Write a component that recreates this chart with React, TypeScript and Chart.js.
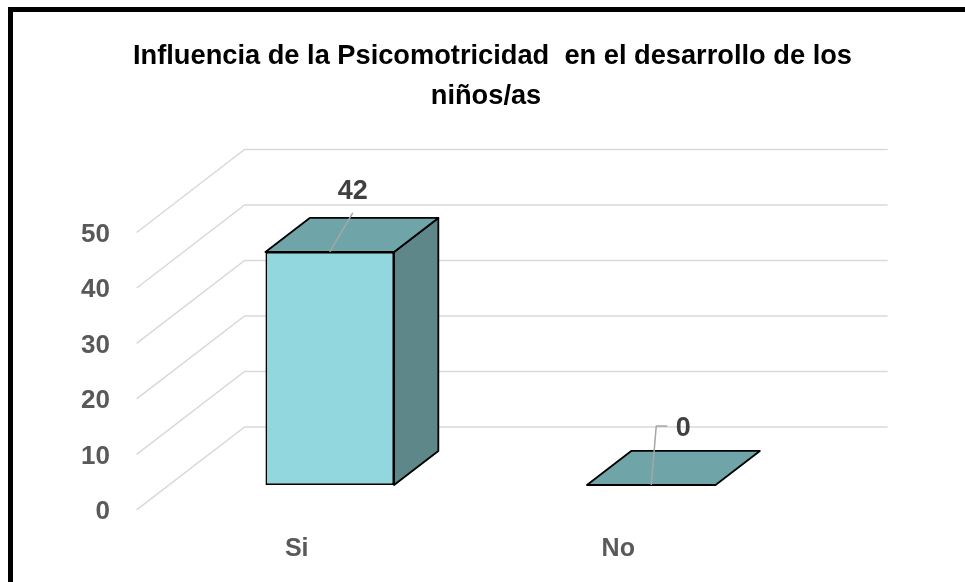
import React, { useEffect, useRef } from "react";
import { Chart, registerables } from "chart.js";

Chart.register(...registerables);

const categories = ["Si", "No"];
const values = [42, 0];
const yTicks = [0, 10, 20, 30, 40, 50];
const titleLines = [
  "Influencia de la Psicomotricidad  en el desarrollo de los",
  "niños/as",
];

// styling / geometry of the pseudo-3D look
const DEPTH = { x: 108, y: -83 };
const BAR_F0 = 0.3;
const BAR_F1 = 0.71;
const COLORS = {
  front: "#92D7DD",
  top: "#6FA5A8",
  side: "#5E878A",
  grid: "#D9D9D9",
  tick: "#595959",
  label: "#404040",
};
// label placement relative to bar's top-front centre
const labelPlacement = [
  { dx: 23, dy: -60, path: [[0, 0], [23, -39]] },
  { dx: 32, dy: -56, path: [[0, 0], [5, -59], [16, -59]] },
];

const pt = (x: number, y: number, f: number): [number, number] => [
  x + (f - BAR_F0) * DEPTH.x,
  y + (f - BAR_F0) * DEPTH.y,
];

const threeD = {
  id: "threeD",
  beforeDraw(chart: any) {
    const ctx = chart.ctx;
    ctx.save();
    ctx.fillStyle = "#ffffff";
    ctx.fillRect(0, 0, chart.width, chart.height);
    // frame
    ctx.fillStyle = "#000000";
    ctx.fillRect(8, 7, 5, chart.height - 7);
    ctx.fillRect(8, 7, chart.width - 8, 5);
    // title
    ctx.font = "bold 28px 'Liberation Sans', Arial, sans-serif";
    const w = ctx.measureText(titleLines[0]).width;
    const s = 719 / w;
    ctx.textAlign = "center";
    ctx.textBaseline = "alphabetic";
    const baselines = [64, 104];
    const cxs = [492.5, 486];
    titleLines.forEach((line, i) => {
      ctx.save();
      ctx.translate(cxs[i], baselines[i]);
      ctx.scale(s, 1);
      ctx.fillText(line, 0, 0);
      ctx.restore();
    });
    ctx.restore();
  },
  beforeDatasetsDraw(chart: any) {
    const ctx = chart.ctx;
    const ys = chart.scales.y;
    const { left, right } = chart.chartArea;
    ctx.save();
    ctx.strokeStyle = COLORS.grid;
    ctx.lineWidth = 1.5;
    yTicks.forEach((v) => {
      const yp = ys.getPixelForValue(v);
      const a = pt(left, yp, 0);
      const b = pt(left, yp, 1);
      const c = pt(right, yp, 1);
      ctx.beginPath();
      ctx.moveTo(a[0], a[1]);
      ctx.lineTo(b[0], b[1]);
      ctx.lineTo(c[0], c[1]);
      ctx.stroke();
    });
    ctx.restore();
  },
  afterDatasetsDraw(chart: any) {
    const ctx = chart.ctx;
    const meta = chart.getDatasetMeta(0);
    ctx.save();
    ctx.lineWidth = 1.8;
    ctx.strokeStyle = "#000000";
    ctx.lineJoin = "round";
    meta.data.forEach((el: any, i: number) => {
      const p = el.getProps(["x", "y", "base", "width"], true);
      const xl = p.x - p.width / 2;
      const xr = p.x + p.width / 2;
      const yt = p.y;
      const yb = p.base;
      const d = BAR_F1 - BAR_F0;
      const ox = d * DEPTH.x;
      const oy = d * DEPTH.y;
      // side face
      if (yb - yt > 0.5) {
        ctx.beginPath();
        ctx.moveTo(xr, yt);
        ctx.lineTo(xr + ox, yt + oy);
        ctx.lineTo(xr + ox, yb + oy);
        ctx.lineTo(xr, yb);
        ctx.closePath();
        ctx.fillStyle = COLORS.side;
        ctx.fill();
        ctx.stroke();
      }
      // top face
      ctx.beginPath();
      ctx.moveTo(xl, yt);
      ctx.lineTo(xl + ox, yt + oy);
      ctx.lineTo(xr + ox, yt + oy);
      ctx.lineTo(xr, yt);
      ctx.closePath();
      ctx.fillStyle = COLORS.top;
      ctx.fill();
      ctx.stroke();

      // data label + leader
      const lp = labelPlacement[i];
      const ax = p.x;
      const ay = yt;
      ctx.save();
      ctx.strokeStyle = "#A6A6A6";
      ctx.lineWidth = 1.5;
      ctx.beginPath();
      lp.path.forEach(([dx, dy], k) => {
        if (k === 0) ctx.moveTo(ax + dx, ay + dy);
        else ctx.lineTo(ax + dx, ay + dy);
      });
      ctx.stroke();
      ctx.fillStyle = COLORS.label;
      ctx.font = "bold 27px 'Liberation Sans', Arial, sans-serif";
      ctx.textAlign = "center";
      ctx.textBaseline = "middle";
      ctx.fillText(String(values[i]), ax + lp.dx, ay + lp.dy);
      ctx.restore();
    });
    ctx.restore();
  },
};

export default function App() {
  const ref = useRef<HTMLCanvasElement | null>(null);
  useEffect(() => {
    if (!ref.current) return;
    const chart = new Chart(ref.current, {
      type: "bar",
      data: {
        labels: categories,
        datasets: [
          {
            data: values,
            backgroundColor: COLORS.front,
            borderColor: "#000000",
            borderWidth: 1.8,
            borderSkipped: false,
            categoryPercentage: 1,
            barPercentage: 0.4,
          },
        ],
      },
      options: {
        responsive: false,
        animation: false,
        devicePixelRatio: 1,
        layout: { padding: { left: 0, top: 207.6, right: 153, bottom: 0 } },
        plugins: {
          legend: { display: false },
          title: { display: false },
          tooltip: { enabled: false },
        },
        scales: {
          x: {
            type: "category",
            offset: true,
            grid: { display: false, drawTicks: false },
            border: { display: false },
            ticks: {
              color: COLORS.tick,
              font: { family: "'Liberation Sans', Arial, sans-serif", size: 25, weight: "bold" },
              labelOffset: -33,
              padding: 49,
              maxRotation: 0,
            },
            afterFit: (scale: any) => {
              scale.height = 97;
            },
          },
          y: {
            min: 0,
            max: 50,
            grid: { display: false, drawTicks: false },
            border: { display: false },
            ticks: {
              color: COLORS.tick,
              font: { family: "'Liberation Sans', Arial, sans-serif", size: 26, weight: "bold" },
              labelOffset: 27,
              padding: 59,
            },
            afterBuildTicks: (axis: any) => {
              axis.ticks = yTicks.map((v) => ({ value: v }));
            },
            afterFit: (scale: any) => {
              scale.width = 169;
            },
          },
        },
      },
      plugins: [threeD],
    } as any);
    return () => chart.destroy();
  }, []);
  return (
    <div style={{ position: "absolute", left: 0, top: 0, width: 965, height: 582, overflow: "hidden" }}>
      <canvas ref={ref} width={965} height={582} style={{ display: "block" }} />
    </div>
  );
}
